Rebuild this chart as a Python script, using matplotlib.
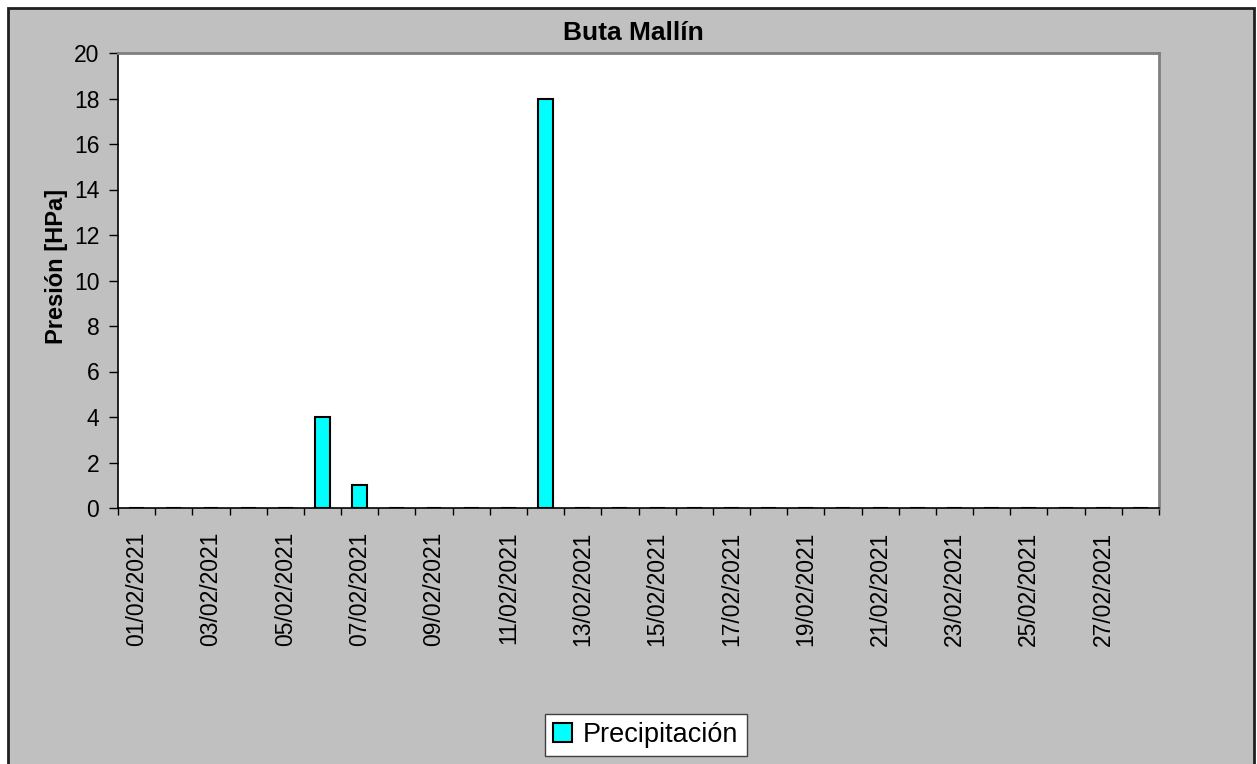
import matplotlib
matplotlib.use('Agg')
import matplotlib.pyplot as plt
from matplotlib.patches import Rectangle
import numpy as np

plt.rcParams['font.family'] = ['Liberation Sans', 'DejaVu Sans']

# daily data, February 2021
days = ['%02d/02/2021' % d for d in range(1, 29)]
precip = [0, 0, 0, 0, 0, 4, 1, 0, 0, 0, 0, 18, 0, 0,
          0, 0, 0, 0, 0, 0, 0, 0, 0, 0, 0, 0, 0, 0]

W, H = 1257, 764
fig = plt.figure(figsize=(W/100, H/100), dpi=100)
fig.patch.set_facecolor('white')
# grey chart area with dark border
bg = Rectangle((8/W, -0.01), (1254-8)/W, (H-8)/H + 0.01,
               transform=fig.transFigure, facecolor='#c0c0c0',
               edgecolor='#202020', lw=2, zorder=-10)
fig.patches.append(bg)

ax = fig.add_axes([118/W, (H-508)/H, (1159-118)/W, (508-53)/H])
ax.set_facecolor('white')

x = np.arange(len(days))
ax.bar(x, precip, width=0.4, color='#00ffff', edgecolor='black', lw=1.5,
       label='Precipitación', zorder=3)

ax.set_xlim(-0.5, len(days) - 0.5)
ax.set_ylim(0, 20)
ax.set_yticks(np.arange(0, 21, 2))
ax.tick_params(axis='y', labelsize=16.5, length=6.5, width=1, direction='out', pad=7)

# ticks at day boundaries, labels every two days
ax.set_xticks(np.arange(-0.5, len(days), 1), minor=True)
ax.set_xticks(x[::2])
ax.set_xticklabels(days[::2], rotation=90, fontsize=16.5)
ax.tick_params(axis='x', which='major', length=0, pad=17)
ax.tick_params(axis='x', which='minor', length=5, width=1, direction='out')

for s in ['top', 'right']:
    ax.spines[s].set_color('#808080')
    ax.spines[s].set_linewidth(2)
for s in ['left', 'bottom']:
    ax.spines[s].set_color('black')
    ax.spines[s].set_linewidth(1.2)

fig.text(633/W, 1 - 33/H, 'Buta Mallín', fontsize=19, fontweight='bold',
         ha='center', va='center')
fig.text(57/W, 1 - 266/H, 'Presión [HPa]', fontsize=17, fontweight='bold',
         rotation=90, ha='center', va='center')

leg = fig.legend(loc='center', bbox_to_anchor=(646/W, 1 - 735/H),
                 fontsize=19.5, frameon=True, fancybox=False,
                 handlelength=0.7, handleheight=0.7, handletextpad=0.4,
                 borderpad=0.3)
leg.get_frame().set_edgecolor('#404040')
leg.get_frame().set_linewidth(1)
leg.get_frame().set_alpha(1)

fig.savefig('out.png', dpi=100)
